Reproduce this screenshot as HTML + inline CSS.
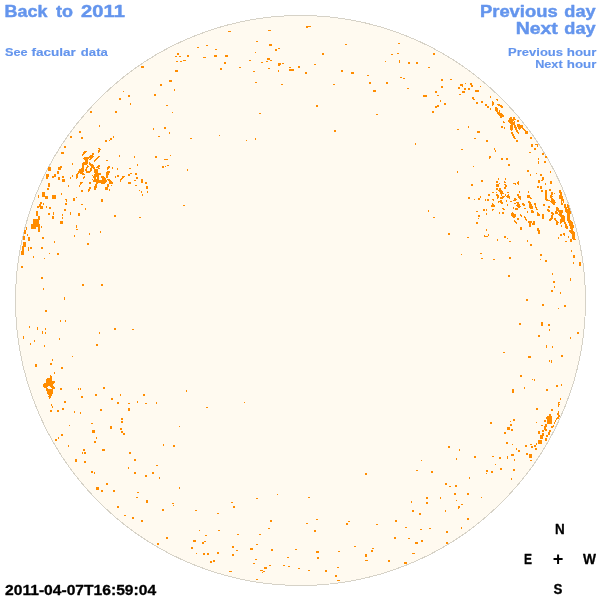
<!DOCTYPE html>
<html>
<head>
<meta charset="utf-8">
<title>Faculae 2011-04-07T16:59:04</title>
<style>
html,body{margin:0;padding:0;background:#fff;}
body{width:600px;height:600px;overflow:hidden;}
svg{display:block;will-change:transform;}
text{font-family:"Liberation Sans",sans-serif;font-weight:bold;}
.b{fill:#6495ed;stroke:#6495ed;stroke-width:0.45;stroke-linejoin:round;}
.k{fill:#000;stroke:#000;stroke-width:0.3;stroke-linejoin:round;}
.s{stroke-width:0.15;}
</style>
</head>
<body>
<svg width="600" height="600" viewBox="0 0 600 600">
<defs><filter id="nf" x="0" y="0" width="600" height="600" filterUnits="userSpaceOnUse"><feOffset dx="0" dy="0"/></filter></defs>
<rect width="600" height="600" fill="#fff"/>
<circle cx="300.5" cy="300.5" r="285" fill="#fffaf0" stroke="#d6d2c7" stroke-width="1" shape-rendering="crispEdges"/>
<g id="dots" fill="#ff8c00" shape-rendering="crispEdges">
<path d="M197 47h2v1h-2zM177 53h2v2h-2zM175 56h2v1h-2zM179 56h2v1h-2zM187 55h2v2h-2zM176 61h2v1h-2zM180 61h2v1h-2zM183 60h3v1h-3zM141 66h3v2h-3zM175 70h3v2h-3zM169 80h3v2h-3zM160 84h2v2h-2zM174 89h1v2h-1zM154 94h2v2h-2zM123 91h1v1h-1zM128 95h2v2h-2zM119 98h2v2h-2zM228 31h3v1h-3zM268 30h3v1h-3zM256 41h2v1h-2zM269 44h3v2h-3zM206 45h2v1h-2zM215 49h2v1h-2zM275 49h2v2h-2zM278 48h2v1h-2zM255 52h1v1h-1zM203 57h3v1h-3zM214 55h3v2h-3zM225 55h3v2h-3zM249 60h2v1h-2zM267 58h3v2h-3zM270 60h2v1h-2zM266 61h2v1h-2zM261 62h2v1h-2zM224 62h2v2h-2zM278 63h3v2h-3zM278 65h2v1h-2zM282 63h2v1h-2zM220 68h2v2h-2zM239 67h2v1h-2zM268 68h2v1h-2zM289 67h2v1h-2zM298 66h2v2h-2zM253 71h2v1h-2zM278 70h1v2h-1zM289 69h5v2h-5zM255 82h2v1h-2zM281 84h2v1h-2zM306 26h2v2h-2zM308 26h3v1h-3zM345 44h2v1h-2zM322 53h2v2h-2zM398 43h2v1h-2zM391 54h2v1h-2zM397 53h2v1h-2zM399 60h1v3h-1zM385 61h1v1h-1zM314 64h2v1h-2zM305 72h2v2h-2zM341 70h2v2h-2zM351 72h3v2h-3zM367 75h2v1h-2zM333 84h2v1h-2zM369 82h2v2h-2zM386 82h2v2h-2zM373 90h3v2h-3zM433 53h2v2h-2zM408 62h2v2h-2zM416 62h2v2h-2zM428 67h2v1h-2zM400 77h2v1h-2zM403 78h2v1h-2zM441 79h2v2h-2zM450 79h2v1h-2zM407 88h2v1h-2zM441 86h2v2h-2zM435 91h2v2h-2zM437 95h2v1h-2zM423 95h4v2h-4zM460 84h3v2h-3zM458 87h2v2h-2zM462 86h1v1h-1zM465 83h1v1h-1zM464 88h2v2h-2zM462 91h3v2h-3zM459 94h2v1h-2zM468 88h2v2h-2zM470 83h2v2h-2zM471 85h2v2h-2zM475 90h4v2h-4zM472 97h2v2h-2zM473 99h2v1h-2zM90 111h2v2h-2zM99 125h1v2h-1zM79 131h2v2h-2zM70 136h2v2h-2zM81 137h2v2h-2zM64 146h2v2h-2zM61 152h3v2h-3zM72 163h1v2h-1zM48 167h3v4h-3zM60 166h2v2h-2zM58 167h3v3h-3zM57 171h2v3h-2zM46 174h3v3h-3zM46 177h2v2h-2zM52 176h2v2h-2zM54 174h2v3h-2zM58 177h2v3h-2zM62 176h2v2h-2zM62 179h3v3h-3zM70 177h1v2h-1zM72 175h1v2h-1zM48 183h2v4h-2zM47 188h2v2h-2zM68 185h1v2h-1zM42 192h3v5h-3zM61 193h1v2h-1zM76 197h1v1h-1zM105 140h2v2h-2zM109 140h1v1h-1zM134 156h1v2h-1zM155 156h2v2h-2zM137 164h1v2h-1zM129 168h2v1h-2zM130 173h2v1h-2zM128 174h2v2h-2zM135 173h2v2h-2zM136 177h2v2h-2zM134 180h2v1h-2zM141 179h2v4h-2zM145 182h2v2h-2zM128 182h3v2h-3zM135 185h2v1h-2zM146 186h2v3h-2zM139 190h1v1h-1zM141 191h1v2h-1zM147 191h1v2h-1zM142 194h1v2h-1zM101 199h2v3h-2zM130 103h1v2h-1zM166 105h2v1h-2zM115 111h2v2h-2zM172 112h1v1h-1zM153 128h1v2h-1zM164 127h2v2h-2zM169 132h1v2h-1zM158 136h2v1h-2zM190 138h2v1h-2zM113 136h1v2h-1zM110 138h2v2h-2zM170 155h1v1h-1zM164 159h4v1h-4zM162 166h2v2h-2zM165 166h1v1h-1zM167 165h2v1h-2zM187 169h1v2h-1zM259 113h2v1h-2zM219 135h1v1h-1zM246 140h1v1h-1zM255 138h1v2h-1zM316 105h2v2h-2zM376 114h2v1h-2zM334 130h2v2h-2zM440 100h1v2h-1zM444 103h2v2h-2zM435 106h2v2h-2zM437 105h2v2h-2zM432 111h2v2h-2zM476 102h2v2h-2zM457 129h2v1h-2zM468 126h1v2h-1zM477 131h3v2h-3zM474 138h2v1h-2zM415 143h1v2h-1zM461 149h2v1h-2zM457 171h1v2h-1zM480 86h1v1h-1zM481 101h2v2h-2zM485 104h2v2h-2zM487 106h2v2h-2zM486 140h2v2h-2zM531 144h2v3h-2zM537 144h1v3h-1zM534 148h2v2h-2zM529 152h2v1h-2zM494 148h1v2h-1zM495 150h1v2h-1zM489 156h2v2h-2zM489 158h1v1h-1zM501 158h2v2h-2zM506 158h2v2h-2zM542 153h2v2h-2zM538 158h1v2h-1zM545 156h2v2h-2zM538 161h1v3h-1zM544 161h2v2h-2zM527 170h2v2h-2zM530 174h1v1h-1zM536 173h1v1h-1zM550 171h1v2h-1zM540 174h2v2h-2zM542 177h2v3h-2zM538 180h2v3h-2zM541 180h2v1h-2zM545 183h1v2h-1zM550 181h2v3h-2zM537 186h2v2h-2zM540 186h2v3h-2zM549 189h2v2h-2zM529 224h2v3h-2zM520 227h2v3h-2zM473 166h1v1h-1zM508 164h2v2h-2zM481 180h2v2h-2zM471 184h2v2h-2zM468 197h2v2h-2zM474 199h1v1h-1zM480 196h1v2h-1zM478 198h2v2h-2zM483 209h2v2h-2zM476 211h2v1h-2zM478 215h2v2h-2zM478 218h1v1h-1zM81 204h2v1h-2zM85 208h1v2h-1zM78 213h2v3h-2zM76 225h1v3h-1zM76 229h2v1h-2zM89 233h1v2h-1zM87 243h2v2h-2zM33 256h1v2h-1zM44 258h1v1h-1zM21 266h2v2h-2zM41 277h2v2h-2zM82 284h2v2h-2zM43 288h1v2h-1zM64 297h1v3h-1zM183 205h2v1h-2zM114 215h2v2h-2zM139 217h2v1h-2zM100 231h1v2h-1zM101 284h2v2h-2zM114 328h2v2h-2zM132 329h2v1h-2zM428 210h1v2h-1zM433 217h2v1h-2zM476 222h2v2h-2zM448 233h2v2h-2zM467 237h2v1h-2zM486 229h1v2h-1zM484 235h1v2h-1zM488 234h1v2h-1zM485 236h3v1h-3zM497 239h1v2h-1zM461 254h1v1h-1zM480 253h2v1h-2zM481 258h2v1h-2zM493 259h2v1h-2zM504 236h2v2h-2zM507 238h1v1h-1zM509 241h2v1h-2zM570 240h2v2h-2zM565 241h2v1h-2zM527 240h1v2h-1zM530 244h2v2h-2zM571 250h1v2h-1zM540 254h2v2h-2zM540 259h1v1h-1zM545 260h2v2h-2zM573 255h2v3h-2zM573 262h1v2h-1zM579 262h2v4h-2zM509 257h2v2h-2zM508 275h2v2h-2zM552 273h1v2h-1zM570 278h1v3h-1zM553 281h2v2h-2zM554 286h1v2h-1zM551 290h2v2h-2zM560 292h1v2h-1zM526 299h2v2h-2zM542 304h2v2h-2zM564 305h2v2h-2zM558 308h1v1h-1zM45 310h2v2h-2zM60 320h1v2h-1zM65 320h1v2h-1zM29 326h1v2h-1zM37 327h1v3h-1zM45 328h1v2h-1zM42 331h1v3h-1zM45 332h1v2h-1zM99 332h1v2h-1zM23 336h1v3h-1zM59 338h1v2h-1zM34 340h1v2h-1zM30 343h1v2h-1zM44 345h1v2h-1zM96 344h2v2h-2zM72 356h1v1h-1zM52 359h1v2h-1zM78 388h1v2h-1zM80 388h1v2h-1zM81 396h2v2h-2zM95 394h2v2h-2zM103 387h2v2h-2zM186 390h1v2h-1zM120 394h1v2h-1zM143 394h2v2h-2zM111 398h2v2h-2zM117 402h2v2h-2zM128 403h2v1h-2zM137 401h1v2h-1zM145 403h2v1h-2zM156 402h1v2h-1zM244 402h1v1h-1zM206 407h2v1h-2zM128 408h2v3h-2zM100 409h2v2h-2zM121 418h2v2h-2zM121 421h2v2h-2zM179 426h1v1h-1zM110 426h2v3h-2zM120 428h2v2h-2zM121 431h2v2h-2zM123 433h2v2h-2zM163 444h1v2h-1zM173 445h2v2h-2zM102 449h3v2h-3zM129 452h2v2h-2zM134 459h2v2h-2zM156 465h2v1h-2zM128 467h1v2h-1zM134 472h2v2h-2zM145 475h2v2h-2zM152 472h2v2h-2zM159 477h1v2h-1zM106 483h2v2h-2zM179 487h1v2h-1zM101 490h2v2h-2zM113 490h2v2h-2zM137 492h2v1h-2zM136 497h2v1h-2zM365 473h2v2h-2zM256 498h2v1h-2zM277 494h1v1h-1zM308 497h2v1h-2zM519 323h2v2h-2zM541 322h2v4h-2zM548 324h2v2h-2zM549 329h1v2h-1zM577 332h2v2h-2zM538 335h2v2h-2zM570 337h1v2h-1zM546 345h1v3h-1zM552 346h1v2h-1zM503 352h2v1h-2zM528 356h3v2h-3zM561 355h2v2h-2zM549 360h1v2h-1zM551 360h1v3h-1zM520 375h2v2h-2zM532 379h1v1h-1zM534 379h1v2h-1zM556 385h2v2h-2zM561 384h1v2h-1zM524 387h1v2h-1zM512 389h2v4h-2zM546 389h2v2h-2zM560 398h1v2h-1zM513 419h2v2h-2zM490 422h2v2h-2zM510 421h1v1h-1zM510 424h2v2h-2zM507 427h3v3h-3zM511 429h2v2h-2zM504 432h2v2h-2zM506 442h2v2h-2zM512 444h1v1h-1zM516 448h1v2h-1zM518 450h2v2h-2zM511 454h3v2h-3zM526 453h2v2h-2zM529 454h3v4h-3zM530 460h2v1h-2zM492 456h2v1h-2zM499 457h2v2h-2zM507 456h1v3h-1zM514 459h1v2h-1zM495 464h1v1h-1zM500 468h2v2h-2zM513 469h2v2h-2zM486 470h2v2h-2zM486 473h1v1h-1zM491 471h2v2h-2zM511 478h1v2h-1zM481 497h1v1h-1zM50 410h2v2h-2zM57 410h2v2h-2zM74 411h1v2h-1zM80 412h1v2h-1zM69 425h1v1h-1zM91 423h2v1h-2zM92 430h3v3h-3zM61 434h2v2h-2zM58 437h1v2h-1zM55 439h2v2h-2zM96 437h1v2h-1zM94 441h2v2h-2zM68 445h1v2h-1zM83 449h2v2h-2zM82 452h1v2h-1zM84 452h2v2h-2zM75 459h2v3h-2zM84 461h2v2h-2zM91 471h2v2h-2zM94 472h1v2h-1zM96 487h3v3h-3zM146 500h2v3h-2zM117 506h2v2h-2zM172 503h2v1h-2zM173 505h1v1h-1zM162 509h2v2h-2zM124 515h2v1h-2zM132 517h2v2h-2zM141 520h2v2h-2zM166 537h2v2h-2zM157 543h2v2h-2zM231 502h2v1h-2zM233 506h2v2h-2zM195 510h2v1h-2zM217 513h2v1h-2zM270 520h2v2h-2zM268 528h2v1h-2zM199 530h1v1h-1zM218 530h2v1h-2zM205 535h2v1h-2zM237 534h2v1h-2zM259 534h2v1h-2zM193 540h3v2h-3zM202 542h2v2h-2zM204 541h2v1h-2zM256 544h2v1h-2zM191 547h2v2h-2zM232 546h2v2h-2zM236 550h2v1h-2zM250 548h3v2h-3zM271 549h2v2h-2zM196 553h1v1h-1zM203 553h2v2h-2zM207 553h2v2h-2zM217 552h2v2h-2zM232 554h2v2h-2zM255 559h2v1h-2zM210 561h2v2h-2zM213 560h2v2h-2zM253 563h2v1h-2zM269 565h2v1h-2zM264 567h3v2h-3zM260 570h3v1h-3zM263 571h2v1h-2zM262 572h1v1h-1zM229 571h3v1h-3zM256 579h2v1h-2zM316 519h2v1h-2zM306 523h2v1h-2zM348 521h2v1h-2zM346 523h2v2h-2zM376 524h2v1h-2zM314 530h2v2h-2zM354 546h2v1h-2zM295 549h2v1h-2zM372 548h2v1h-2zM371 550h2v2h-2zM316 551h3v2h-3zM338 551h2v1h-2zM365 554h2v3h-2zM365 560h3v1h-3zM287 557h2v1h-2zM317 557h2v2h-2zM283 565h2v1h-2zM288 566h2v1h-2zM298 568h2v1h-2zM337 567h2v1h-2zM308 570h2v1h-2zM325 570h2v2h-2zM335 575h2v2h-2zM337 580h3v1h-3zM411 501h1v2h-1zM426 502h2v2h-2zM456 500h1v1h-1zM461 504h2v1h-2zM458 506h2v2h-2zM458 508h1v1h-1zM412 510h2v2h-2zM445 510h1v2h-1zM419 513h2v2h-2zM467 518h2v2h-2zM395 520h2v2h-2zM405 527h2v1h-2zM420 529h2v1h-2zM429 528h2v1h-2zM461 527h1v2h-1zM446 531h2v2h-2zM394 537h2v2h-2zM408 538h2v1h-2zM421 540h2v2h-2zM415 542h3v2h-3zM446 542h2v2h-2zM446 543h1v1h-1zM412 553h3v1h-3zM388 560h2v2h-2zM404 562h3v2h-3zM448 446h2v2h-2zM459 449h1v2h-1zM474 456h2v2h-2zM456 458h1v2h-1zM421 460h1v1h-1zM416 470h2v1h-2zM431 471h2v2h-2zM469 477h1v2h-1zM445 483h2v2h-2zM449 486h2v1h-2zM455 485h2v2h-2zM454 493h2v2h-2zM467 493h2v2h-2zM426 497h2v2h-2zM440 497h1v2h-1zM558 402h1v5h-1zM558 402h2v1h-2zM559 404h1v1h-1zM536 408h2v2h-2zM551 409h2v2h-2zM558 411h1v2h-1zM557 413h2v2h-2zM558 415h2v2h-2zM557 417h2v2h-2zM547 416h5v8h-5zM549 414h2v2h-2zM546 417h2v2h-2zM544 420h2v2h-2zM556 418h1v2h-1zM555 420h1v2h-1zM554 422h1v2h-1zM536 422h1v1h-1zM541 425h2v1h-2zM553 425h1v2h-1zM551 426h2v2h-2zM545 424h2v3h-2zM544 426h2v4h-2zM542 430h2v2h-2zM545 429h2v2h-2zM538 431h2v3h-2zM549 430h2v2h-2zM548 432h2v3h-2zM546 435h2v2h-2zM542 433h2v3h-2zM540 435h3v4h-3zM545 438h2v3h-2zM538 440h4v4h-4zM536 443h1v2h-1zM534 445h2v2h-2zM525 445h2v2h-2zM530 444h2v1h-2zM531 446h2v2h-2zM535 448h2v2h-2zM38 195h1v3h-1zM42 195h2v2h-2zM45 196h3v3h-3zM52 195h4v4h-4zM40 202h2v2h-2zM39 204h2v3h-2zM43 203h1v2h-1zM37 206h2v2h-2zM40 206h3v3h-3zM46 206h1v2h-1zM49 207h2v2h-2zM36 211h2v5h-2zM38 216h2v4h-2zM33 219h6v5h-6zM31 224h5v5h-5zM36 224h4v3h-4zM38 227h2v5h-2zM41 226h1v2h-1zM48 213h2v2h-2zM53 212h1v3h-1zM52 216h2v3h-2zM26 227h1v3h-1zM24 230h2v4h-2zM27 234h1v2h-1zM28 237h2v4h-2zM23 236h2v4h-2zM23 242h3v5h-3zM22 246h2v5h-2zM21 251h3v4h-3zM28 247h1v4h-1zM30 247h2v2h-2zM42 237h2v2h-2zM41 247h2v2h-2zM54 241h1v2h-1zM49 253h1v1h-1zM57 253h2v2h-2zM65 199h2v1h-2zM66 200h1v2h-1zM65 203h2v2h-2zM73 198h2v3h-2zM64 209h2v2h-2zM70 212h1v3h-1zM62 214h1v2h-1zM62 217h1v2h-1zM60 221h3v3h-3zM74 235h1v2h-1zM50 363h2v2h-2zM35 364h2v3h-2zM61 367h2v2h-2zM54 372h1v2h-1zM60 388h2v2h-2zM64 401h2v2h-2zM51 404h1v2h-1zM52 406h1v2h-1zM62 408h2v2h-2zM50 375h1v1h-1zM50 376h2v1h-2zM50 377h2v1h-2zM47 378h5v1h-5zM46 379h6v1h-6zM46 380h6v1h-6zM46 381h9v1h-9zM46 382h9v1h-9zM44 383h10v1h-10zM43 384h10v1h-10zM43 385h10v1h-10zM43 386h5v1h-5zM50 386h4v1h-4zM44 387h3v1h-3zM51 387h4v1h-4zM46 388h2v1h-2zM52 388h3v1h-3zM46 389h7v1h-7zM46 390h7v1h-7zM47 391h6v1h-6zM47 392h6v1h-6zM47 393h6v1h-6zM48 394h4v1h-4zM49 395h3v1h-3zM48 396h3v1h-3zM49 397h2v1h-2zM49 398h1v1h-1zM98 148h2v1h-2zM99 149h2v1h-2zM98 150h2v1h-2zM84 151h3v1h-3zM98 151h2v1h-2zM83 152h3v1h-3zM98 152h1v1h-1zM83 153h2v1h-2zM92 153h2v1h-2zM82 154h2v1h-2zM92 154h2v1h-2zM82 155h1v1h-1zM90 155h3v1h-3zM119 155h1v1h-1zM89 156h5v1h-5zM98 156h2v1h-2zM119 156h1v1h-1zM84 157h9v1h-9zM97 157h2v1h-2zM83 158h6v1h-6zM90 158h2v1h-2zM96 158h2v1h-2zM84 159h4v1h-4zM89 159h2v1h-2zM95 159h2v1h-2zM85 160h3v1h-3zM94 160h2v1h-2zM106 160h2v1h-2zM85 161h3v1h-3zM94 161h1v1h-1zM83 162h5v1h-5zM89 162h1v1h-1zM82 163h6v1h-6zM89 163h2v1h-2zM82 164h5v1h-5zM89 164h4v1h-4zM82 165h2v1h-2zM87 165h1v1h-1zM90 165h4v1h-4zM98 165h2v1h-2zM82 166h2v1h-2zM87 166h2v1h-2zM91 166h3v1h-3zM97 166h3v1h-3zM108 166h2v1h-2zM82 167h2v1h-2zM86 167h2v1h-2zM91 167h4v1h-4zM96 167h3v1h-3zM107 167h3v1h-3zM112 167h1v1h-1zM81 168h3v1h-3zM86 168h1v1h-1zM90 168h2v1h-2zM93 168h2v1h-2zM98 168h2v1h-2zM107 168h2v1h-2zM112 168h1v1h-1zM117 168h1v1h-1zM79 169h5v1h-5zM85 169h2v1h-2zM90 169h2v1h-2zM94 169h4v1h-4zM107 169h1v1h-1zM117 169h1v1h-1zM79 170h5v1h-5zM85 170h2v1h-2zM90 170h2v1h-2zM94 170h4v1h-4zM78 171h6v1h-6zM86 171h5v1h-5zM94 171h4v1h-4zM107 171h3v1h-3zM78 172h5v1h-5zM86 172h4v1h-4zM94 172h4v1h-4zM106 172h4v1h-4zM77 173h2v1h-2zM80 173h4v1h-4zM95 173h6v1h-6zM106 173h3v1h-3zM76 174h2v1h-2zM82 174h3v1h-3zM94 174h7v1h-7zM106 174h3v1h-3zM76 175h2v1h-2zM92 175h1v1h-1zM94 175h5v1h-5zM106 175h2v1h-2zM117 175h2v1h-2zM76 176h2v1h-2zM84 176h1v1h-1zM93 176h6v1h-6zM101 176h3v1h-3zM106 176h2v1h-2zM115 176h1v1h-1zM117 176h2v1h-2zM122 176h3v1h-3zM76 177h2v1h-2zM83 177h2v1h-2zM93 177h3v1h-3zM97 177h2v1h-2zM101 177h4v1h-4zM106 177h2v1h-2zM115 177h1v1h-1zM122 177h2v1h-2zM76 178h1v1h-1zM83 178h1v1h-1zM94 178h2v1h-2zM97 178h2v1h-2zM102 178h4v1h-4zM121 178h2v1h-2zM92 179h1v1h-1zM94 179h5v1h-5zM102 179h4v1h-4zM107 179h3v1h-3zM120 179h2v1h-2zM93 180h10v1h-10zM103 180h4v1h-4zM108 180h3v1h-3zM120 180h1v1h-1zM93 181h5v1h-5zM98 181h9v1h-9zM109 181h3v1h-3zM120 181h1v1h-1zM80 182h3v1h-3zM89 182h2v1h-2zM96 182h10v1h-10zM109 182h4v1h-4zM80 183h2v1h-2zM89 183h2v1h-2zM96 183h2v1h-2zM101 183h4v1h-4zM109 183h4v1h-4zM80 184h1v1h-1zM95 184h2v1h-2zM107 184h2v1h-2zM79 185h1v1h-1zM95 185h2v1h-2zM107 185h2v1h-2zM111 185h1v1h-1zM79 186h1v1h-1zM94 186h3v1h-3zM107 186h2v1h-2zM89 187h2v1h-2zM94 187h3v1h-3zM105 187h3v1h-3zM89 188h2v1h-2zM94 188h2v1h-2zM105 188h3v1h-3zM88 189h2v1h-2zM94 189h2v1h-2zM105 189h3v1h-3zM109 189h1v1h-1zM81 190h2v1h-2zM88 190h2v1h-2zM109 190h1v1h-1zM81 191h2v1h-2zM88 191h1v1h-1zM490 96h1v1h-1zM490 97h1v1h-1zM496 99h2v1h-2zM497 100h1v1h-1zM492 101h1v1h-1zM492 102h2v1h-2zM492 103h2v1h-2zM492 104h2v1h-2zM497 104h3v1h-3zM492 105h1v1h-1zM498 105h4v1h-4zM500 106h3v1h-3zM495 107h2v1h-2zM501 107h2v1h-2zM490 108h1v1h-1zM495 108h3v1h-3zM490 109h1v1h-1zM495 109h3v1h-3zM495 110h3v1h-3zM499 110h1v1h-1zM496 111h2v1h-2zM499 111h1v1h-1zM497 112h3v1h-3zM497 113h5v1h-5zM498 114h5v1h-5zM499 115h5v1h-5zM500 116h4v1h-4zM500 117h2v1h-2zM510 117h2v1h-2zM513 117h2v1h-2zM509 118h3v1h-3zM513 118h2v1h-2zM509 119h7v1h-7zM508 120h6v1h-6zM517 120h2v1h-2zM503 121h1v1h-1zM508 121h5v1h-5zM514 121h1v1h-1zM517 121h2v1h-2zM503 122h2v1h-2zM509 122h6v1h-6zM510 123h5v1h-5zM511 124h4v1h-4zM517 124h3v1h-3zM510 125h3v1h-3zM514 125h2v1h-2zM517 125h6v1h-6zM501 126h2v1h-2zM510 126h3v1h-3zM514 126h2v1h-2zM517 126h6v1h-6zM501 127h2v1h-2zM504 127h1v1h-1zM510 127h3v1h-3zM514 127h3v1h-3zM518 127h5v1h-5zM504 128h1v1h-1zM510 128h3v1h-3zM515 128h2v1h-2zM518 128h3v1h-3zM522 128h2v1h-2zM510 129h3v1h-3zM515 129h2v1h-2zM519 129h1v1h-1zM523 129h2v1h-2zM511 130h1v1h-1zM516 130h2v1h-2zM524 130h2v1h-2zM516 131h2v1h-2zM525 131h3v1h-3zM511 132h2v1h-2zM517 132h2v1h-2zM525 132h3v1h-3zM511 133h2v1h-2zM518 133h1v1h-1zM525 133h3v1h-3zM512 134h2v1h-2zM512 135h2v1h-2zM513 136h2v1h-2zM513 137h2v1h-2zM530 137h2v1h-2zM514 138h2v1h-2zM530 138h2v1h-2zM516 140h2v1h-2zM516 141h2v1h-2zM531 144h2v1h-2zM535 144h2v1h-2zM541 190h2v1h-2zM545 190h2v1h-2zM549 190h2v1h-2zM559 190h2v1h-2zM541 191h2v1h-2zM545 191h2v1h-2zM559 191h2v1h-2zM545 192h2v1h-2zM551 192h2v1h-2zM559 192h3v1h-3zM545 193h2v1h-2zM551 193h2v1h-2zM554 193h1v1h-1zM560 193h2v1h-2zM545 194h2v1h-2zM551 194h2v1h-2zM560 194h2v1h-2zM545 195h2v1h-2zM550 195h2v1h-2zM559 195h3v1h-3zM545 196h2v1h-2zM550 196h3v1h-3zM559 196h4v1h-4zM545 197h2v1h-2zM550 197h2v1h-2zM559 197h4v1h-4zM545 198h2v1h-2zM551 198h2v1h-2zM559 198h4v1h-4zM545 199h3v1h-3zM551 199h3v1h-3zM561 199h3v1h-3zM546 200h4v1h-4zM551 200h4v1h-4zM561 200h3v1h-3zM550 201h5v1h-5zM561 201h1v1h-1zM563 201h1v1h-1zM551 202h5v1h-5zM561 202h1v1h-1zM563 202h1v1h-1zM535 203h1v1h-1zM552 203h3v1h-3zM561 203h2v1h-2zM535 204h1v1h-1zM543 204h2v1h-2zM553 204h2v1h-2zM561 204h2v1h-2zM564 204h2v1h-2zM567 204h1v1h-1zM535 205h1v1h-1zM543 205h2v1h-2zM564 205h2v1h-2zM567 205h2v1h-2zM535 206h1v1h-1zM548 206h2v1h-2zM564 206h2v1h-2zM567 206h2v1h-2zM535 207h2v1h-2zM548 207h2v1h-2zM556 207h2v1h-2zM564 207h3v1h-3zM567 207h2v1h-2zM536 208h1v1h-1zM556 208h3v1h-3zM565 208h2v1h-2zM568 208h2v1h-2zM536 209h2v1h-2zM547 209h2v1h-2zM556 209h3v1h-3zM565 209h5v1h-5zM547 210h3v1h-3zM556 210h7v1h-7zM565 210h5v1h-5zM548 211h2v1h-2zM555 211h2v1h-2zM558 211h5v1h-5zM565 211h6v1h-6zM537 212h1v1h-1zM551 212h2v1h-2zM555 212h3v1h-3zM559 212h4v1h-4zM566 212h5v1h-5zM537 213h2v1h-2zM551 213h3v1h-3zM555 213h3v1h-3zM559 213h3v1h-3zM567 213h4v1h-4zM537 214h3v1h-3zM542 214h2v1h-2zM552 214h2v1h-2zM558 214h4v1h-4zM567 214h3v1h-3zM537 215h3v1h-3zM542 215h2v1h-2zM551 215h2v1h-2zM559 215h5v1h-5zM567 215h3v1h-3zM542 216h2v1h-2zM551 216h2v1h-2zM560 216h5v1h-5zM567 216h3v1h-3zM542 217h2v1h-2zM551 217h2v1h-2zM561 217h4v1h-4zM567 217h3v1h-3zM542 218h2v1h-2zM550 218h3v1h-3zM554 218h2v1h-2zM561 218h4v1h-4zM567 218h3v1h-3zM549 219h3v1h-3zM554 219h2v1h-2zM560 219h5v1h-5zM567 219h3v1h-3zM549 220h2v1h-2zM555 220h2v1h-2zM560 220h5v1h-5zM567 220h4v1h-4zM556 221h2v1h-2zM560 221h5v1h-5zM568 221h4v1h-4zM556 222h3v1h-3zM560 222h2v1h-2zM564 222h2v1h-2zM568 222h5v1h-5zM556 223h2v1h-2zM560 223h1v1h-1zM564 223h2v1h-2zM569 223h4v1h-4zM556 224h2v1h-2zM565 224h2v1h-2zM569 224h4v1h-4zM561 225h1v1h-1zM565 225h2v1h-2zM569 225h5v1h-5zM561 226h1v1h-1zM565 226h3v1h-3zM570 226h4v1h-4zM565 227h3v1h-3zM570 227h4v1h-4zM537 228h2v1h-2zM566 228h2v1h-2zM570 228h3v1h-3zM537 229h2v1h-2zM571 229h2v1h-2zM537 230h3v1h-3zM569 230h4v1h-4zM538 231h2v1h-2zM569 231h5v1h-5zM538 232h2v1h-2zM570 232h5v1h-5zM538 233h2v1h-2zM563 233h2v1h-2zM571 233h4v1h-4zM560 234h2v1h-2zM563 234h2v1h-2zM572 234h3v1h-3zM560 235h2v1h-2zM564 235h1v1h-1zM572 235h3v1h-3zM568 236h1v1h-1zM572 236h3v1h-3zM558 237h1v1h-1zM568 237h1v1h-1zM572 237h3v1h-3zM558 238h1v1h-1zM572 238h3v1h-3zM570 239h2v1h-2zM573 239h3v1h-3zM530 175h1v1h-1zM498 178h1v1h-1zM505 178h1v1h-1zM498 179h1v1h-1zM505 179h1v1h-1zM496 181h2v1h-2zM504 181h1v1h-1zM518 181h1v1h-1zM496 182h2v1h-2zM504 182h2v1h-2zM517 182h2v1h-2zM499 183h1v1h-1zM513 183h3v1h-3zM517 183h2v1h-2zM496 184h3v1h-3zM504 184h2v1h-2zM515 184h1v1h-1zM518 184h1v1h-1zM496 185h3v1h-3zM505 185h2v1h-2zM496 186h3v1h-3zM505 186h2v1h-2zM504 187h2v1h-2zM496 188h2v1h-2zM499 188h2v1h-2zM504 188h2v1h-2zM496 189h2v1h-2zM499 189h2v1h-2zM498 190h4v1h-4zM499 191h4v1h-4zM519 191h1v1h-1zM528 191h1v1h-1zM492 192h2v1h-2zM496 192h1v1h-1zM500 192h3v1h-3zM507 192h2v1h-2zM519 192h1v1h-1zM528 192h1v1h-1zM500 193h4v1h-4zM488 194h2v1h-2zM496 194h2v1h-2zM501 194h1v1h-1zM505 194h1v1h-1zM508 194h1v1h-1zM517 194h2v1h-2zM488 195h2v1h-2zM496 195h3v1h-3zM501 195h1v1h-1zM505 195h1v1h-1zM507 195h2v1h-2zM517 195h2v1h-2zM527 195h3v1h-3zM497 196h2v1h-2zM502 196h3v1h-3zM506 196h4v1h-4zM518 196h3v1h-3zM527 196h3v1h-3zM497 197h2v1h-2zM500 197h4v1h-4zM507 197h3v1h-3zM518 197h3v1h-3zM527 197h4v1h-4zM497 198h1v1h-1zM500 198h3v1h-3zM509 198h1v1h-1zM514 198h2v1h-2zM519 198h2v1h-2zM530 198h2v1h-2zM485 199h1v1h-1zM487 199h2v1h-2zM492 199h2v1h-2zM514 199h3v1h-3zM520 199h1v1h-1zM485 200h1v1h-1zM487 200h2v1h-2zM493 200h1v1h-1zM500 200h2v1h-2zM506 200h1v1h-1zM513 200h3v1h-3zM498 201h4v1h-4zM506 201h1v1h-1zM510 201h2v1h-2zM528 201h2v1h-2zM498 202h1v1h-1zM500 202h3v1h-3zM516 202h3v1h-3zM528 202h3v1h-3zM492 203h1v1h-1zM501 203h2v1h-2zM514 203h2v1h-2zM517 203h2v1h-2zM522 203h2v1h-2zM529 203h2v1h-2zM534 203h1v1h-1zM492 204h2v1h-2zM507 204h1v1h-1zM517 204h3v1h-3zM522 204h3v1h-3zM529 204h3v1h-3zM534 204h1v1h-1zM491 205h4v1h-4zM507 205h1v1h-1zM516 205h4v1h-4zM523 205h2v1h-2zM529 205h3v1h-3zM491 206h4v1h-4zM517 206h4v1h-4zM529 206h4v1h-4zM513 207h1v1h-1zM518 207h2v1h-2zM529 207h4v1h-4zM502 208h2v1h-2zM513 208h1v1h-1zM515 208h3v1h-3zM524 208h2v1h-2zM530 208h3v1h-3zM486 209h1v1h-1zM492 209h2v1h-2zM503 209h2v1h-2zM515 209h3v1h-3zM486 210h1v1h-1zM492 210h1v1h-1zM531 210h2v1h-2zM527 211h1v1h-1zM531 211h3v1h-3zM499 212h1v1h-1zM502 212h2v1h-2zM512 212h1v1h-1zM527 212h1v1h-1zM531 212h3v1h-3zM486 213h1v1h-1zM499 213h1v1h-1zM502 213h2v1h-2zM511 213h3v1h-3zM486 214h1v1h-1zM511 214h5v1h-5zM520 214h1v1h-1zM511 215h5v1h-5zM520 215h2v1h-2zM512 216h4v1h-4zM521 216h1v1h-1zM524 216h1v1h-1zM513 217h2v1h-2zM524 217h2v1h-2zM517 218h2v1h-2zM525 218h1v1h-1zM517 219h2v1h-2zM525 219h2v1h-2zM514 220h1v1h-1zM526 220h1v1h-1zM514 221h2v1h-2zM528 221h4v1h-4zM533 221h2v1h-2zM515 222h2v1h-2zM528 222h4v1h-4zM533 222h2v1h-2zM516 223h1v1h-1zM529 223h2v1h-2zM532 223h3v1h-3zM532 224h3v1h-3z"/>
</g>
<g id="labels" filter="url(#nf)">
<text class="b" y="17.00" font-size="16.9"><tspan x="4.49" textLength="42.91" lengthAdjust="spacingAndGlyphs">Back</tspan> <tspan x="56.03" textLength="16.95" lengthAdjust="spacingAndGlyphs">to</tspan> <tspan x="81.13" textLength="43.77" lengthAdjust="spacingAndGlyphs">2011</tspan></text>
<text class="b" y="17.00" font-size="16.9"><tspan x="479.95" textLength="77.79" lengthAdjust="spacingAndGlyphs">Previous</tspan> <tspan x="564.35" textLength="31.32" lengthAdjust="spacingAndGlyphs">day</tspan></text>
<text class="b" y="34.00" font-size="16.9"><tspan x="515.68" textLength="42.19" lengthAdjust="spacingAndGlyphs">Next</tspan> <tspan x="564.35" textLength="31.32" lengthAdjust="spacingAndGlyphs">day</tspan></text>
<text class="b s" y="55.90" font-size="11.5"><tspan x="5.03" textLength="22.59" lengthAdjust="spacingAndGlyphs">See</tspan> <tspan x="31.42" textLength="44.49" lengthAdjust="spacingAndGlyphs">facular</tspan> <tspan x="80.85" textLength="27.01" lengthAdjust="spacingAndGlyphs">data</tspan></text>
<text class="b s" y="55.90" font-size="11.5"><tspan x="508.08" textLength="54.94" lengthAdjust="spacingAndGlyphs">Previous</tspan> <tspan x="566.77" textLength="29.57" lengthAdjust="spacingAndGlyphs">hour</tspan></text>
<text class="b s" y="67.80" font-size="11.5"><tspan x="535.18" textLength="27.47" lengthAdjust="spacingAndGlyphs">Next</tspan> <tspan x="566.77" textLength="29.57" lengthAdjust="spacingAndGlyphs">hour</tspan></text>
<text class="k" x="5.02" y="594.80" font-size="14.1" textLength="151.09" lengthAdjust="spacingAndGlyphs">2011-04-07T16:59:04</text>
<text class="k" x="555.12" y="534.00" font-size="13.8" textLength="9.72" lengthAdjust="spacingAndGlyphs">N</text>
<text class="k" x="523.96" y="563.80" font-size="13.8" textLength="8.04" lengthAdjust="spacingAndGlyphs">E</text>
<text class="k" x="582.89" y="563.80" font-size="13.8" textLength="12.96" lengthAdjust="spacingAndGlyphs">W</text>
<text class="k" x="553.38" y="593.90" font-size="13.8" textLength="8.90" lengthAdjust="spacingAndGlyphs">S</text>
<text class="k" x="558" y="565.2" font-size="18.2" text-anchor="middle" style="stroke-width:0">+</text>
</g>
</svg>
</body>
</html>
